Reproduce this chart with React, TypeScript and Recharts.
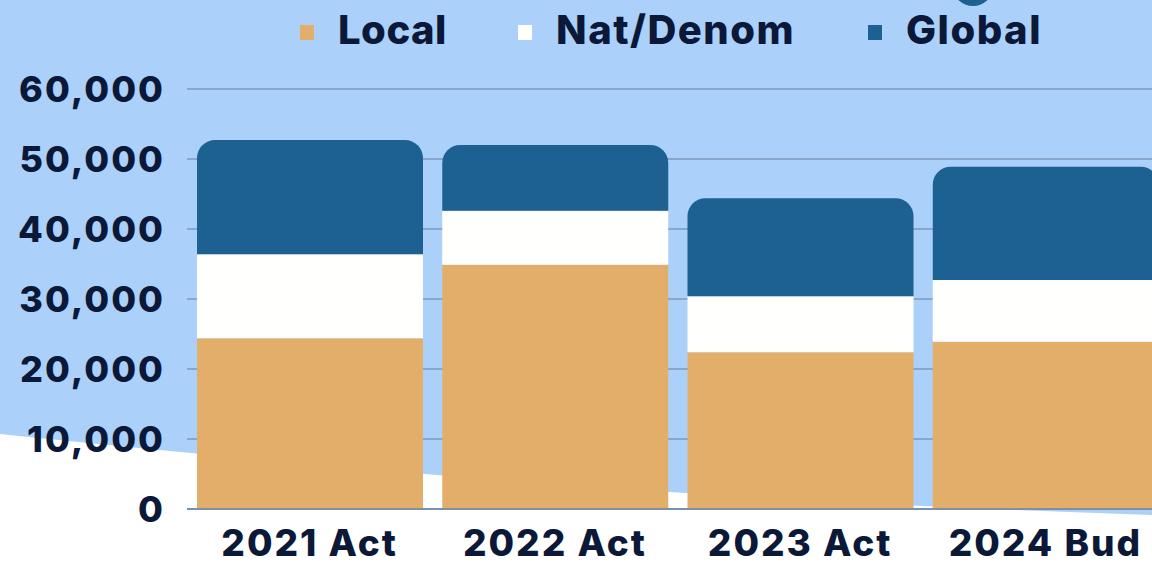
import React from 'react';
import { BarChart, Bar, XAxis, YAxis, CartesianGrid } from 'recharts';

const categories = ['2021 Act', '2022 Act', '2023 Act', '2024 Bud'];
const localValues = [24400, 34900, 22400, 23900];
const natDenomValues = [12000, 7700, 8000, 8800];
const globalValues = [16300, 9400, 14000, 16200];
const yTicks = [0, 10000, 20000, 30000, 40000, 50000, 60000];
const seriesKeys = ['local', 'nat', 'global'];
const seriesNames = ['Local', 'Nat/Denom', 'Global'];
const seriesColors = ['#e3ae6a', '#fffffd', '#1d6092'];

const data = categories.map((c, i) => ({
  category: c,
  local: localValues[i],
  nat: natDenomValues[i],
  global: globalValues[i],
}));

const FONT = 'Inter, "Noto Sans", sans-serif';
const INK = '#0b1838';
const legendLeft = [300, 518, 868];

const LegendBox = () => (
  <div style={{ position: 'absolute', left: 0, top: 6, width: 1152, height: 50, fontFamily: FONT, fontWeight: 800, fontSize: 40, color: INK }}>
    {seriesNames.map((n, i) => (
      <div key={n} style={{ position: 'absolute', left: legendLeft[i], top: 0, display: 'flex', alignItems: 'center', height: 48 }}>
        <span style={{ display: 'inline-block', width: 14, height: 15, background: seriesColors[i], marginRight: 24, marginTop: 4 }} />
        <span style={{ lineHeight: '48px', letterSpacing: i === 0 ? 0.5 : 1.5 }}>{n}</span>
      </div>
    ))}
  </div>
);

export default function App() {
  return (
    <div style={{ position: 'fixed', left: 0, top: 0, width: 1152, height: 564, overflow: 'hidden', background: '#abd1fb' }}>
      <svg width={1152} height={564} style={{ position: 'absolute', left: 0, top: 0 }}>
        <path d="M0,434 C400,475 700,500 1152,515 L1152,564 L0,564 Z" fill="#ffffff" />
        <circle cx={973} cy={-14} r={20} fill="#1d6092" />
      </svg>
      <LegendBox />
      <div style={{ position: 'absolute', left: 0, top: 0 }}>
        <BarChart
          width={1168}
          height={564}
          data={data}
          margin={{ top: 89, right: 0, left: 0, bottom: 5 }}
          barSize={226}
        >
          <CartesianGrid vertical={false} stroke="#7d98bb" strokeWidth={1.5} />
          <XAxis
            dataKey="category"
            height={50}
            tickLine={false}
            axisLine={{ stroke: '#6d86a6', strokeWidth: 1.5 }}
            tickMargin={15}
            tick={{ fill: INK, fontFamily: FONT, fontWeight: 800, fontSize: 37, letterSpacing: 2 }}
          />
          <YAxis
            width={187}
            domain={[0, 60000]}
            ticks={yTicks}
            tickLine={false}
            axisLine={false}
            tickMargin={16}
            tickFormatter={(v: number) => v.toLocaleString('en-US')}
            tick={{ fill: INK, fontFamily: FONT, fontWeight: 800, fontSize: 36, letterSpacing: 2 }}
          />
          {seriesKeys.map((k, i) => (
            <Bar
              key={k}
              dataKey={k}
              name={seriesNames[i]}
              stackId="a"
              fill={seriesColors[i]}
              isAnimationActive={false}
              radius={i === 2 ? [18, 18, 0, 0] : 0}
            />
          ))}
        </BarChart>
      </div>
    </div>
  );
}
